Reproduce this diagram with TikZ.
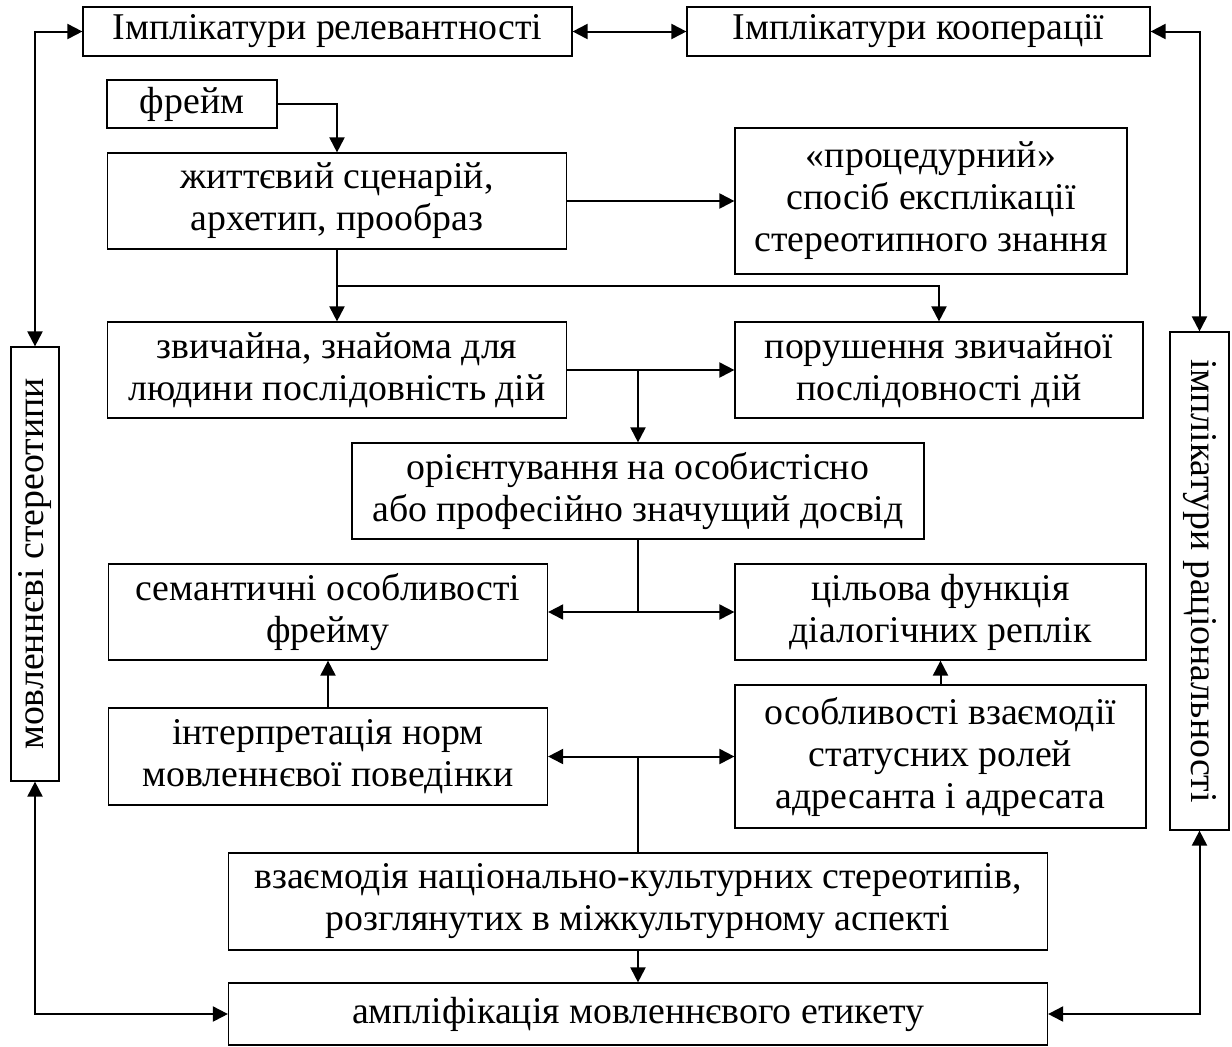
\documentclass[tikz,border=0pt]{standalone}
\usepackage{fontspec}
\setmainfont{Liberation Serif}
\usepackage{tikz}
\usetikzlibrary{arrows.meta, calc}

\begin{document}
\begin{tikzpicture}[x=0.5pt, y=-0.5pt,
    every node/.style={font=\fontsize{18.9pt}{21pt}\selectfont, align=center, inner sep=0pt},
    box/.style={draw, line width=0.6pt},
    link/.style={line width=1pt, -{Triangle[length=7.5pt, width=7.5pt]}},
    both/.style={line width=1pt, {Triangle[length=7.5pt, width=7.5pt]}-{Triangle[length=7.5pt, width=7.5pt]}}]
    \useasboundingbox (0,0) rectangle (1232,1046);
    % Top row
    \node[box, minimum width=244.5pt, minimum height=24.5pt] (relev) at (327.5,31.5) {Імплікатури релевантності};
    \node[box, minimum width=231.5pt, minimum height=24.5pt] (coop) at (918.5,31.5) {Імплікатури кооперації};
    % Side boxes
    \node[box, minimum width=24pt, minimum height=217pt] (mov) at (35,564) {\rotatebox{90}{мовленнєві стереотипи}};
    \node[box, minimum width=29.5pt, minimum height=249pt] (rat) at (1199.5,581) {\rotatebox{-90}{імплікатури раціональності}};
    % Frame and scenario
    \node[box, minimum width=85pt, minimum height=24pt] (frame) at (192,104) {фрейм};
    \node[box, minimum width=229.5pt, minimum height=48pt] (scen) at (337,201) {життєвий сценарій,\\архетип, прообраз};
    \node[box, minimum width=196pt, minimum height=73pt] (proc) at (931,201) {«процедурний»\\спосіб експлікації\\стереотипного знання};
    \node[box, minimum width=229.5pt, minimum height=48pt] (usual) at (337,370) {звичайна, знайома для\\людини послідовність дій};
    \node[box, minimum width=204pt, minimum height=48pt] (viol) at (939,370) {порушення звичайної\\послідовності дій};
    \node[box, minimum width=286pt, minimum height=48pt] (orient) at (638,491) {орієнтування на особистісно\\або професійно значущий досвід};
    % Lower part
    \node[box, minimum width=219.5pt, minimum height=48pt] (sem) at (328,612) {семантичні особливості\\фрейму};
    \node[box, minimum width=205.5pt, minimum height=48pt] (goal) at (940.5,612) {цільова функція\\діалогічних реплік};
    \node[box, minimum width=219.5pt, minimum height=48.5pt] (interp) at (328,756.5) {інтерпретація норм\\мовленнєвої поведінки};
    \node[box, minimum width=205.5pt, minimum height=71.5pt] (status) at (940.5,756.5) {особливості взаємодії\\статусних ролей\\адресанта і адресата};
    \node[box, minimum width=409.5pt, minimum height=48.5pt] (inter) at (638,901.5) {взаємодія національно-культурних стереотипів,\\розглянутих в міжкультурному аспекті};
    \node[box, minimum width=409.5pt, minimum height=31pt] (ampl) at (638,1014) {ампліфікація мовленнєвого етикету};
    % Junctions
    \coordinate (jscen) at ($(scen.south)!0.5!(usual.north)$);
    \coordinate (jusual) at (orient.north |- usual.east);
    \coordinate (jorient) at (orient.south |- sem.east);
    \coordinate (jinter) at (inter.north |- interp.east);
    % Outer frame of arrows
    \draw[both] (relev) -- (coop);
    \draw[both] (relev.west) -| (mov.north);
    \draw[both] (coop.east) -| (rat.north);
    \draw[both] (mov.south) |- (ampl.west);
    \draw[both] (rat.south) |- (ampl.east);
    % Inner arrows
    \draw[link] (frame.east) -| (scen.north);
    \draw[link] (scen) -- (proc);
    \draw[link] (scen) -- (usual);
    \draw[link] (jscen) -| (viol.north);
    \draw[link] (usual) -- (viol);
    \draw[link] (jusual) -- (orient.north);
    \draw[line width=1pt] (orient.south) -- (jorient);
    \draw[link] (jorient) -- (sem.east);
    \draw[link] (jorient) -- (goal.west);
    \draw[link] (interp) -- (sem);
    \draw[link] (status) -- (goal);
    \draw[line width=1pt] (inter.north) -- (jinter);
    \draw[link] (jinter) -- (interp.east);
    \draw[link] (jinter) -- (status.west);
    \draw[link] (inter) -- (ampl);
\end{tikzpicture}
\end{document}
